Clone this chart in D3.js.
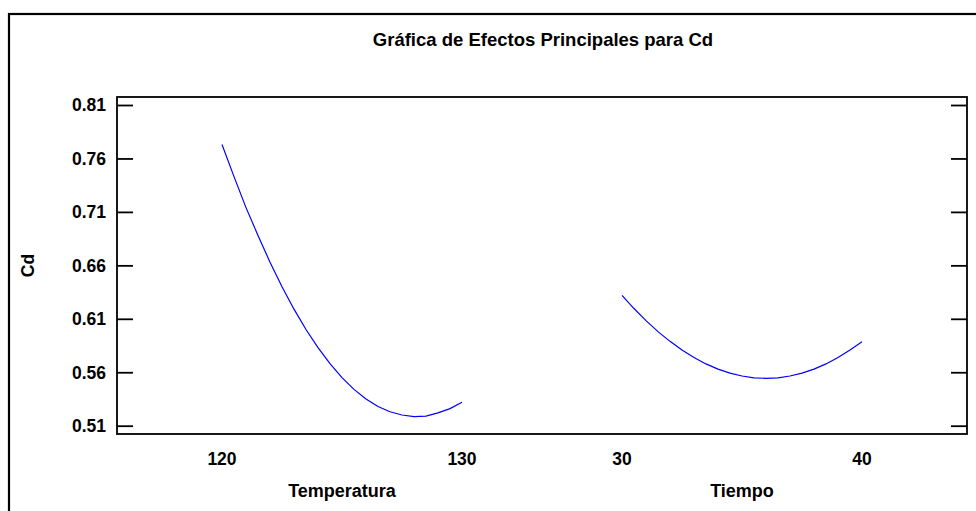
<!DOCTYPE html>
<html>
<head>
<meta charset="utf-8">
<script src="https://cdn.jsdelivr.net/npm/d3@7/dist/d3.min.js"></script>
<style>
    body { margin: 0; background: #fff; }
    text { font-family: "Liberation Sans", Arial, sans-serif; font-weight: bold; fill: #000; }
</style>
</head>
<body>
<div id="chart"></div>
<script>
// chart data
var title = "Gráfica de Efectos Principales para Cd";
var yLabel = "Cd";
var factors = ["Temperatura", "Tiempo"];
var factorLevels = [[120, 130], [30, 40]];
var yTicks = [0.51, 0.56, 0.61, 0.66, 0.71, 0.76, 0.81];

var tempX = [120, 120.5, 121, 121.5, 122, 122.5, 123, 123.5, 124, 124.5, 125,
             125.5, 126, 126.5, 127, 127.5, 128, 128.5, 129, 129.5, 130];
var tempCd = [0.773, 0.743, 0.714, 0.688, 0.663, 0.640, 0.619, 0.600, 0.583, 0.568, 0.555,
              0.544, 0.535, 0.528, 0.523, 0.520, 0.5185, 0.519, 0.522, 0.526, 0.532];

var tiempoX = [30, 30.5, 31, 31.5, 32, 32.5, 33, 33.5, 34, 34.5, 35,
               35.5, 36, 36.5, 37, 37.5, 38, 38.5, 39, 39.5, 40];
var tiempoCd = [0.632, 0.6196, 0.6083, 0.598, 0.5889, 0.5808, 0.5737, 0.5678, 0.5629, 0.5592, 0.5565,
                0.5548, 0.5543, 0.5548, 0.5565, 0.5592, 0.5629, 0.5678, 0.5737, 0.5808, 0.5885];

var series = [
    { factor: "Temperatura", x: tempX, y: tempCd },
    { factor: "Tiempo", x: tiempoX, y: tiempoCd }
];

var width = 976, height = 511;
var plot = { left: 117, right: 967, top: 97, bottom: 434 };
var fontSize = 17.5;

var svg = d3.select('#chart')
    .append('svg')
    .attr('width', width)
    .attr('height', height);

// outer frame (runs off the right and bottom edge)
svg.append('rect')
    .attr('x', 9).attr('y', 14)
    .attr('width', 1100).attr('height', 600)
    .attr('fill', 'none')
    .attr('stroke', '#000')
    .attr('stroke-width', 2.2);

svg.append('text')
    .attr('x', 543).attr('y', 46)
    .attr('text-anchor', 'middle')
    .style('font-size', '18.5px')
    .text(title);

var y = d3.scaleLinear()
    .domain([0.51, 0.81])
    .range([plot.bottom - 8.3, plot.top + 8]);

// factors laid side by side
var band = d3.scaleBand()
    .domain(factors)
    .range([plot.left + 105, plot.right - 105])
    .paddingInner(0.4)
    .paddingOuter(0);

var xScales = {};
factors.forEach(function(f, i) {
    xScales[f] = d3.scaleLinear()
        .domain(factorLevels[i])
        .range([band(f), band(f) + band.bandwidth()]);
});

// plot box
svg.append('rect')
    .attr('x', plot.left).attr('y', plot.top)
    .attr('width', plot.right - plot.left)
    .attr('height', plot.bottom - plot.top)
    .attr('fill', 'none')
    .attr('stroke', '#000')
    .attr('stroke-width', 1.8);

// left axis, ticks pointing inwards
var leftAxis = svg.append('g')
    .attr('transform', 'translate(' + plot.left + ',0)')
    .call(d3.axisRight(y).tickValues(yTicks).tickSize(16).tickFormat(''));

var rightAxis = svg.append('g')
    .attr('transform', 'translate(' + plot.right + ',0)')
    .call(d3.axisLeft(y).tickValues(yTicks).tickSize(16).tickFormat(''));

[leftAxis, rightAxis].forEach(function(a) {
    a.select('.domain').remove();
    a.selectAll('line').attr('stroke', '#000').attr('stroke-width', 1.8);
});

svg.selectAll('.ylab')
    .data(yTicks)
    .enter()
    .append('text')
    .attr('class', 'ylab')
    .attr('x', plot.left - 11)
    .attr('y', function(d) { return y(d); })
    .attr('dy', '0.36em')
    .attr('text-anchor', 'end')
    .style('font-size', fontSize + 'px')
    .text(function(d) { return d3.format('.2f')(d); });

svg.append('text')
    .attr('transform', 'translate(34,' + ((plot.top + plot.bottom) / 2) + ') rotate(-90)')
    .attr('text-anchor', 'middle')
    .style('font-size', fontSize + 'px')
    .text(yLabel);

// x tick labels and factor names
factors.forEach(function(f, i) {
    var xs = xScales[f];
    svg.selectAll('.xlab' + i)
        .data(factorLevels[i])
        .enter()
        .append('text')
        .attr('class', 'xlab' + i)
        .attr('x', function(d) { return xs(d); })
        .attr('y', 465)
        .attr('text-anchor', 'middle')
        .style('font-size', fontSize + 'px')
        .text(function(d) { return d; });

    svg.append('text')
        .attr('x', xs(d3.mean(factorLevels[i])))
        .attr('y', 497)
        .attr('text-anchor', 'middle')
        .style('font-size', '18px')
        .text(f);
});

// effect curves
series.forEach(function(s) {
    var xs = xScales[s.factor];
    var line = d3.line()
        .x(function(d) { return xs(d[0]); })
        .y(function(d) { return y(d[1]); });
    svg.append('path')
        .datum(d3.zip(s.x, s.y))
        .attr('d', line)
        .attr('fill', 'none')
        .attr('stroke', '#0000ff')
        .attr('stroke-width', 1.2);
});
</script>
</body>
</html>
